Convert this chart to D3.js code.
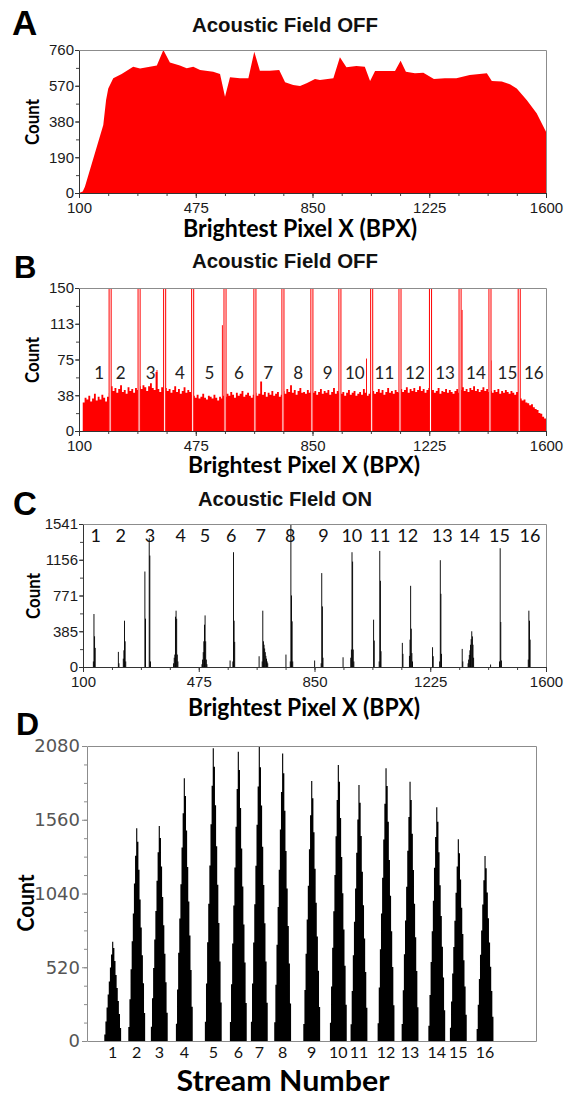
<!DOCTYPE html>
<html>
<head>
<meta charset="utf-8">
<script src="https://cdn.jsdelivr.net/npm/d3@7"></script>
<style>
  body { margin: 0; background: #fff; }
  svg  { display: block; }
</style>
</head>
<body>
<script>
// ----- Shared -----
const xTicks  = [100, 475, 850, 1225, 1600];
const streams = ["1","2","3","4","5","6","7","8","9","10","11","12","13","14","15","16"];

// ----- Panel A : area histogram, field OFF -----
const aBpx   = [100,112,119,178,187,194,210,237,274,296,350,371,392,424,446,467,489,531,553,569,
                585,617,644,663,681,713,743,762,788,810,831,858,874,917,938,959,991,1018,1035,1051,
                1115,1133,1150,1179,1206,1240,1275,1312,1355,1410,1426,1458,1484,1506,1538,1570,1600];
const aCount = [0,8,33,361,494,556,610,632,671,662,677,760,693,677,663,671,654,645,632,512,
                615,610,610,751,650,650,654,588,574,569,583,606,601,610,721,668,675,671,595,648,
                648,703,645,636,639,606,610,610,627,636,595,592,578,556,494,424,326];
const aYTicks = [0, 190, 380, 570, 760];

// ----- Panel B : fine histogram, field OFF (6 px-unit bins from 112) -----
const bBinStart = 112, bBinWidth = 6;
const bCount = [
  30,35,33,37,31,34,39,32,36,33,38,35,31,36,40,
  47,42,45,40,44,48,41,43,39,46,42,44,40,45,43,47,
  44,48,46,42,47,50,45,43,62,44,41,46,43,
  45,42,44,40,43,47,41,44,39,42,46,40,43,41,38,
  37,35,38,34,36,39,35,33,37,36,34,38,35,32,36,34,37,
  36,39,37,41,38,35,40,37,39,42,36,38,40,37,35,38,
  40,37,39,52,38,41,36,40,38,42,37,39,41,36,38,
  42,39,44,41,48,40,43,38,42,45,40,41,39,43,40,42,
  40,42,38,41,44,39,42,40,43,38,41,45,39,42,40,
  39,41,37,40,43,38,40,42,37,39,41,38,44,40,37,39,41,
  42,39,41,44,40,43,38,41,45,40,42,39,43,41,40,
  44,41,43,46,40,44,42,45,41,43,47,42,44,40,43,45,
  41,43,40,42,45,39,42,41,44,40,43,41,39,42,44,40,
  43,46,42,44,41,45,43,47,42,44,41,43,46,42,44,41,
  42,40,43,41,44,39,42,40,43,41,39,42,40,38,41,39,
  34,32,33,30,29,27,28,25,23,22,19,18,15,13
];
const bGates      = [200,293,375,465,569,665,755,848,938,1040,1131,1229,1324,1420,1514];
const bSpikeBpx   = [349,559,1022,1225,1329,1422];
const bSpikeCount = [64,111,76,99,127,74];
const bLabelBpx   = [165,234,330,424,519,614,708,804,899,986,1081,1179,1276,1375,1476,1561];
const bYTicks     = [0, 37.5, 75, 112.5, 150];

// ----- Panel C : field ON, [bpx, count] bins -----
const cBinWidth = 3;
const cBins = [
  [[132,60],[134,571],[136,331],[138,206]],
  [[213,163],[215,40],[229,90],[231,180],[233,499],[235,277],[237,60]],
  [[299,1029],[301,521],[313,1388],[315,1201],[317,60]],
  [[392,40],[394,100],[396,134],[398,542],[400,607],[402,520],[404,134],[406,60]],
  [[484,30],[486,80],[488,160],[490,277],[492,456],[494,556],[496,277],[498,80],[500,30]],
  [[575,70],[584,60],[586,1237],[588,499],[590,271]],
  [[669,116],[679,60],[681,607],[683,277],[685,240],[687,200],[689,160],[691,120],[693,90],[695,60],[697,40]],
  [[756,134],[770,60],[772,1541],[774,771],[776,492],[778,60]],
  [[849,70],[870,40],[872,1012],[874,653],[876,100]],
  [[941,105],[966,100],[968,188],[970,1237],[972,1136],[974,188],[976,60]],
  [[1040,510],[1042,285],[1058,60],[1060,1251],[1062,929],[1064,170]],
  [[1133,260],[1135,142],[1156,120],[1158,295],[1160,875],[1162,413],[1164,150],[1166,60]],
  [[1231,213],[1233,116],[1254,60],[1256,1151],[1258,789],[1260,142]],
  [[1327,195],[1329,60],[1346,40],[1348,80],[1350,130],[1352,180],[1354,240],[1356,300],[1358,385],[1360,330],[1362,240],[1364,100]],
  [[1419,27],[1448,60],[1450,1280],[1452,485],[1454,70]],
  [[1541,80],[1543,607],[1545,499],[1547,295]]
];
const cLabelBpx = [141,222,317,417,495,580,676,771,879,971,1062,1152,1264,1352,1449,1548];
const cYTicks   = [0, 385.25, 770.5, 1155.75, 1541];

// ----- Panel D : per-stream histograms (channel units, 15 bins each) -----
const dCenter = [22.9,44.3,64.4,86.7,112.5,134.8,153.5,174.3,200.2,223.9,242.3,266.4,287.8,311.6,330.8,354.6];
const dBins = [
  [46,138,236,328,420,518,610,700,656,564,466,374,282,190,92],
  [98,295,506,703,899,1110,1307,1500,1405,1208,998,801,604,407,197],
  [100,301,515,716,916,1130,1331,1516,1431,1231,1016,816,615,415,200],
  [121,363,622,864,1105,1364,1606,1852,1727,1485,1226,984,743,501,242],
  [135,406,696,967,1238,1528,1799,2064,1934,1663,1373,1102,832,561,271],
  [134,401,688,956,1223,1510,1777,2040,1911,1643,1357,1089,822,554,268],
  [135,405,695,965,1235,1525,1795,2080,1930,1660,1370,1100,830,560,270],
  [132,396,679,944,1208,1491,1755,2028,1887,1623,1340,1076,811,547,264],
  [120,359,616,856,1095,1352,1591,1833,1711,1471,1215,975,736,496,240],
  [128,384,658,914,1170,1444,1700,1946,1828,1572,1298,1042,786,530,256],
  [118,353,605,840,1075,1327,1562,1805,1680,1445,1193,958,722,487,235],
  [126,378,647,899,1151,1420,1672,1923,1798,1546,1277,1025,773,521,252],
  [119,357,612,850,1087,1342,1580,1828,1699,1461,1206,968,731,493,238],
  [108,325,557,773,989,1221,1438,1648,1546,1330,1098,881,665,448,216],
  [93,278,476,662,847,1045,1230,1422,1323,1138,939,754,569,384,185],
  [85,256,438,609,780,962,1133,1304,1218,1047,865,694,524,353,171]
];
const dYTicks = [0, 520, 1040, 1560, 2080];

// ---------- setup ----------
const TICK_FONT  = "'Liberation Sans', Arial, sans-serif";
const LABEL_FONT = "Lato, 'Open Sans', sans-serif";

const svg = d3.select("body").append("svg")
  .attr("width", 572)
  .attr("height", 1097);

// frame + axes for the BPX panels (A, B, C)
function bpxAxes(x, y, yTicks, fmt) {
  const [x0, x1] = x.range();
  const [yb, yt] = y.range();
  const yStep = (yTicks[1] - yTicks[0]) / 2;

  svg.append("path")
    .attr("d", `M${x0 + 0.5},${yt + 0.5}H${x1 + 0.5}V${yb + 0.5}`)
    .attr("fill", "none")
    .attr("stroke", "#8c8c8c");

  // minor ticks
  svg.append("g")
    .attr("transform", `translate(0,${yb})`)
    .call(d3.axisBottom(x).tickValues(d3.range(100, 1600, 93.75)).tickSize(3).tickFormat("").tickSizeOuter(0))
    .call(g => g.select(".domain").remove())
    .selectAll("line").attr("stroke", "#444");
  svg.append("g")
    .attr("transform", `translate(${x0},0)`)
    .call(d3.axisLeft(y).tickValues(d3.range(0, yTicks[4], yStep)).tickSize(3).tickFormat("").tickSizeOuter(0))
    .call(g => g.select(".domain").remove())
    .selectAll("line").attr("stroke", "#444");

  const gx = svg.append("g")
    .attr("transform", `translate(0,${yb})`)
    .call(d3.axisBottom(x).tickValues(xTicks).tickSize(5).tickPadding(4).tickSizeOuter(0).tickFormat(d3.format("d")));
  const gy = svg.append("g")
    .attr("transform", `translate(${x0},0)`)
    .call(d3.axisLeft(y).tickValues(yTicks).tickSize(4).tickPadding(1).tickSizeOuter(0).tickFormat(fmt));

  [gx, gy].forEach(g => {
    g.select(".domain").attr("stroke", "#333");
    g.selectAll("line").attr("stroke", "#333");
    g.selectAll("text")
      .attr("font-family", TICK_FONT)
      .attr("font-size", 15)
      .attr("fill", "#1a1a1a");
  });
}

function panelLetter(t, x, y, size) {
  svg.append("text")
    .attr("x", x).attr("y", y)
    .attr("font-family", TICK_FONT)
    .attr("font-weight", "bold")
    .attr("font-size", size)
    .attr("fill", "#000")
    .text(t);
}

function panelTitle(t, x, y, len) {
  svg.append("text")
    .attr("x", x).attr("y", y)
    .attr("font-family", TICK_FONT)
    .attr("font-weight", "bold")
    .attr("font-size", 20)
    .attr("textLength", len)
    .attr("lengthAdjust", "spacingAndGlyphs")
    .attr("fill", "#111")
    .text(t);
}

function axisTitle(t, cx, y, len, size) {
  svg.append("text")
    .attr("x", cx).attr("y", y)
    .attr("text-anchor", "middle")
    .attr("font-family", LABEL_FONT)
    .attr("font-weight", "bold")
    .attr("font-size", size)
    .attr("textLength", len)
    .attr("lengthAdjust", "spacingAndGlyphs")
    .attr("fill", "#000")
    .text(t);
}

function countTitle(cx, cy, len, size) {
  svg.append("text")
    .attr("transform", `translate(${cx},${cy}) rotate(-90)`)
    .attr("text-anchor", "middle")
    .attr("dominant-baseline", "central")
    .attr("font-family", LABEL_FONT)
    .attr("font-weight", "bold")
    .attr("font-size", size)
    .attr("textLength", len)
    .attr("lengthAdjust", "spacingAndGlyphs")
    .attr("fill", "#000")
    .text("Count");
}

// ---------- Panel A ----------
{
  const x = d3.scaleLinear().domain([100, 1600]).range([79, 546]);
  const y = d3.scaleLinear().domain([0, 760]).range([193, 50]);

  const area = d3.area()
    .x(d => x(d[0]))
    .y0(y(0))
    .y1(d => y(d[1]));

  svg.append("path")
    .datum(aBpx.map((b, i) => [b, aCount[i]]))
    .attr("d", area)
    .attr("fill", "#ff0000");

  bpxAxes(x, y, aYTicks, d3.format("d"));
  panelLetter("A", 12, 35, 35);
  panelTitle("Acoustic Field OFF", 192, 32, 186);
  countTitle(31, 122, 46, 19);
  axisTitle("Brightest Pixel X (BPX)", 300, 237, 234, 24);
}

// ---------- Panel B ----------
{
  const x = d3.scaleLinear().domain([100, 1600]).range([79, 546]);
  const y = d3.scaleLinear().domain([0, 150]).range([431, 288]);

  const pts = bCount.map((c, i) => [bBinStart + i * bBinWidth, c]);
  pts.push([bBinStart + bCount.length * bBinWidth, bCount[bCount.length - 1]]);

  svg.append("path")
    .datum(pts)
    .attr("d", d3.area().curve(d3.curveStepAfter).x(d => x(d[0])).y0(y(0)).y1(d => y(d[1])))
    .attr("fill", "#ff0000");

  // isolated tall bins
  svg.selectAll(".b-spike")
    .data(bSpikeBpx)
    .enter()
    .append("rect")
    .attr("class", "b-spike")
    .attr("x", d => x(d))
    .attr("width", x(103) - x(100))
    .attr("y", (d, i) => y(bSpikeCount[i]))
    .attr("height", (d, i) => y(0) - y(bSpikeCount[i]))
    .attr("fill", "#ff0000");

  // stream gates: red pair with a white gap between
  svg.selectAll(".b-gate")
    .data(bGates)
    .enter()
    .append("rect")
    .attr("class", "b-gate")
    .attr("x", d => x(d - 5))
    .attr("width", x(110) - x(100))
    .attr("y", y(150))
    .attr("height", y(0) - y(150))
    .attr("fill", "#ff0d0d");

  svg.selectAll(".b-gap")
    .data(bGates)
    .enter()
    .append("rect")
    .attr("class", "b-gap")
    .attr("x", d => x(d - 1.6))
    .attr("width", x(103.2) - x(100))
    .attr("y", y(150))
    .attr("height", y(0) - y(150))
    .attr("fill", "#fff");

  svg.selectAll(".b-label")
    .data(streams)
    .enter()
    .append("text")
    .attr("class", "b-label")
    .attr("x", (d, i) => x(bLabelBpx[i]))
    .attr("y", y(61))
    .attr("text-anchor", "middle")
    .attr("dominant-baseline", "central")
    .attr("font-family", LABEL_FONT)
    .attr("font-size", 17)
    .attr("fill", "#222")
    .text(d => d);

  bpxAxes(x, y, bYTicks, d => Math.round(d));
  panelLetter("B", 14, 278, 31);
  panelTitle("Acoustic Field OFF", 192, 268, 186);
  countTitle(31, 360, 46, 19);
  axisTitle("Brightest Pixel X (BPX)", 304, 473, 232, 22);
}

// ---------- Panel C ----------
{
  const x = d3.scaleLinear().domain([100, 1600]).range([83, 546]);
  const y = d3.scaleLinear().domain([0, 1541]).range([667, 524]);

  svg.selectAll(".c-bin")
    .data(cBins.flat())
    .enter()
    .append("rect")
    .attr("class", "c-bin")
    .attr("x", d => x(d[0]))
    .attr("width", x(100 + cBinWidth) - x(100))
    .attr("y", d => y(d[1]))
    .attr("height", d => y(0) - y(d[1]))
    .attr("fill", "#000");

  svg.selectAll(".c-label")
    .data(streams)
    .enter()
    .append("text")
    .attr("class", "c-label")
    .attr("x", (d, i) => x(cLabelBpx[i]))
    .attr("y", y(1423))
    .attr("text-anchor", "middle")
    .attr("dominant-baseline", "central")
    .attr("font-family", LABEL_FONT)
    .attr("font-size", 18)
    .attr("fill", "#111")
    .text(d => d);

  bpxAxes(x, y, cYTicks, d => Math.round(d));
  panelLetter("C", 13, 515, 33);
  panelTitle("Acoustic FIeld ON", 198, 506, 174);
  countTitle(32, 596, 46, 19);
  axisTitle("Brightest Pixel X (BPX)", 304, 716, 232, 24);
}

// ---------- Panel D ----------
{
  const x = d3.scaleLinear().domain([0, 400]).range([87, 536]);
  const y = d3.scaleLinear().domain([0, 2080]).range([1041, 746]);

  const stepArea = d3.area()
    .curve(d3.curveStepAfter)
    .x(d => x(d[0]))
    .y0(y(0))
    .y1(d => y(d[1]));

  svg.selectAll(".d-peak")
    .data(dBins)
    .enter()
    .append("path")
    .attr("class", "d-peak")
    .attr("d", (bins, s) => {
      const left = dCenter[s] - bins.length / 2;
      const pts = bins.map((c, i) => [left + i, c]);
      pts.push([left + bins.length, bins[bins.length - 1]]);
      return stepArea(pts);
    })
    .attr("fill", "#000");

  // frame
  svg.append("path")
    .attr("d", `M87.5,746.5H536.5V1041.5`)
    .attr("fill", "none")
    .attr("stroke", "#8c8c8c");

  svg.append("g")
    .attr("transform", "translate(0,1041)")
    .call(d3.axisBottom(x).tickValues([]).tickSizeOuter(0))
    .select(".domain").attr("stroke", "#8c8c8c");

  svg.append("g")
    .attr("transform", "translate(87,0)")
    .call(d3.axisLeft(y).tickValues(d3.range(0, 2080, 130)).tickSize(3).tickFormat("").tickSizeOuter(0))
    .call(g => g.select(".domain").remove())
    .selectAll("line").attr("stroke", "#8c8c8c");

  const gy = svg.append("g")
    .attr("transform", "translate(87,0)")
    .call(d3.axisLeft(y).tickValues(dYTicks).tickSize(5).tickPadding(2).tickSizeOuter(0).tickFormat(d3.format("d")));
  gy.select(".domain").attr("stroke", "#8c8c8c");
  gy.selectAll("line").attr("stroke", "#8c8c8c");
  gy.selectAll("text")
    .attr("font-family", "'DejaVu Sans', sans-serif")
    .attr("font-size", 18)
    .attr("fill", "#555");

  svg.selectAll(".d-label")
    .data(streams)
    .enter()
    .append("text")
    .attr("class", "d-label")
    .attr("x", (d, i) => x(dCenter[i]))
    .attr("y", y(0) + 17)
    .attr("text-anchor", "middle")
    .attr("font-family", LABEL_FONT)
    .attr("font-size", 16)
    .attr("fill", "#111")
    .text(d => d);

  panelLetter("D", 16, 735, 32);
  countTitle(25, 903, 57, 23);
  axisTitle("Stream Number", 283, 1091, 213, 29);
}
</script>
</body>
</html>
